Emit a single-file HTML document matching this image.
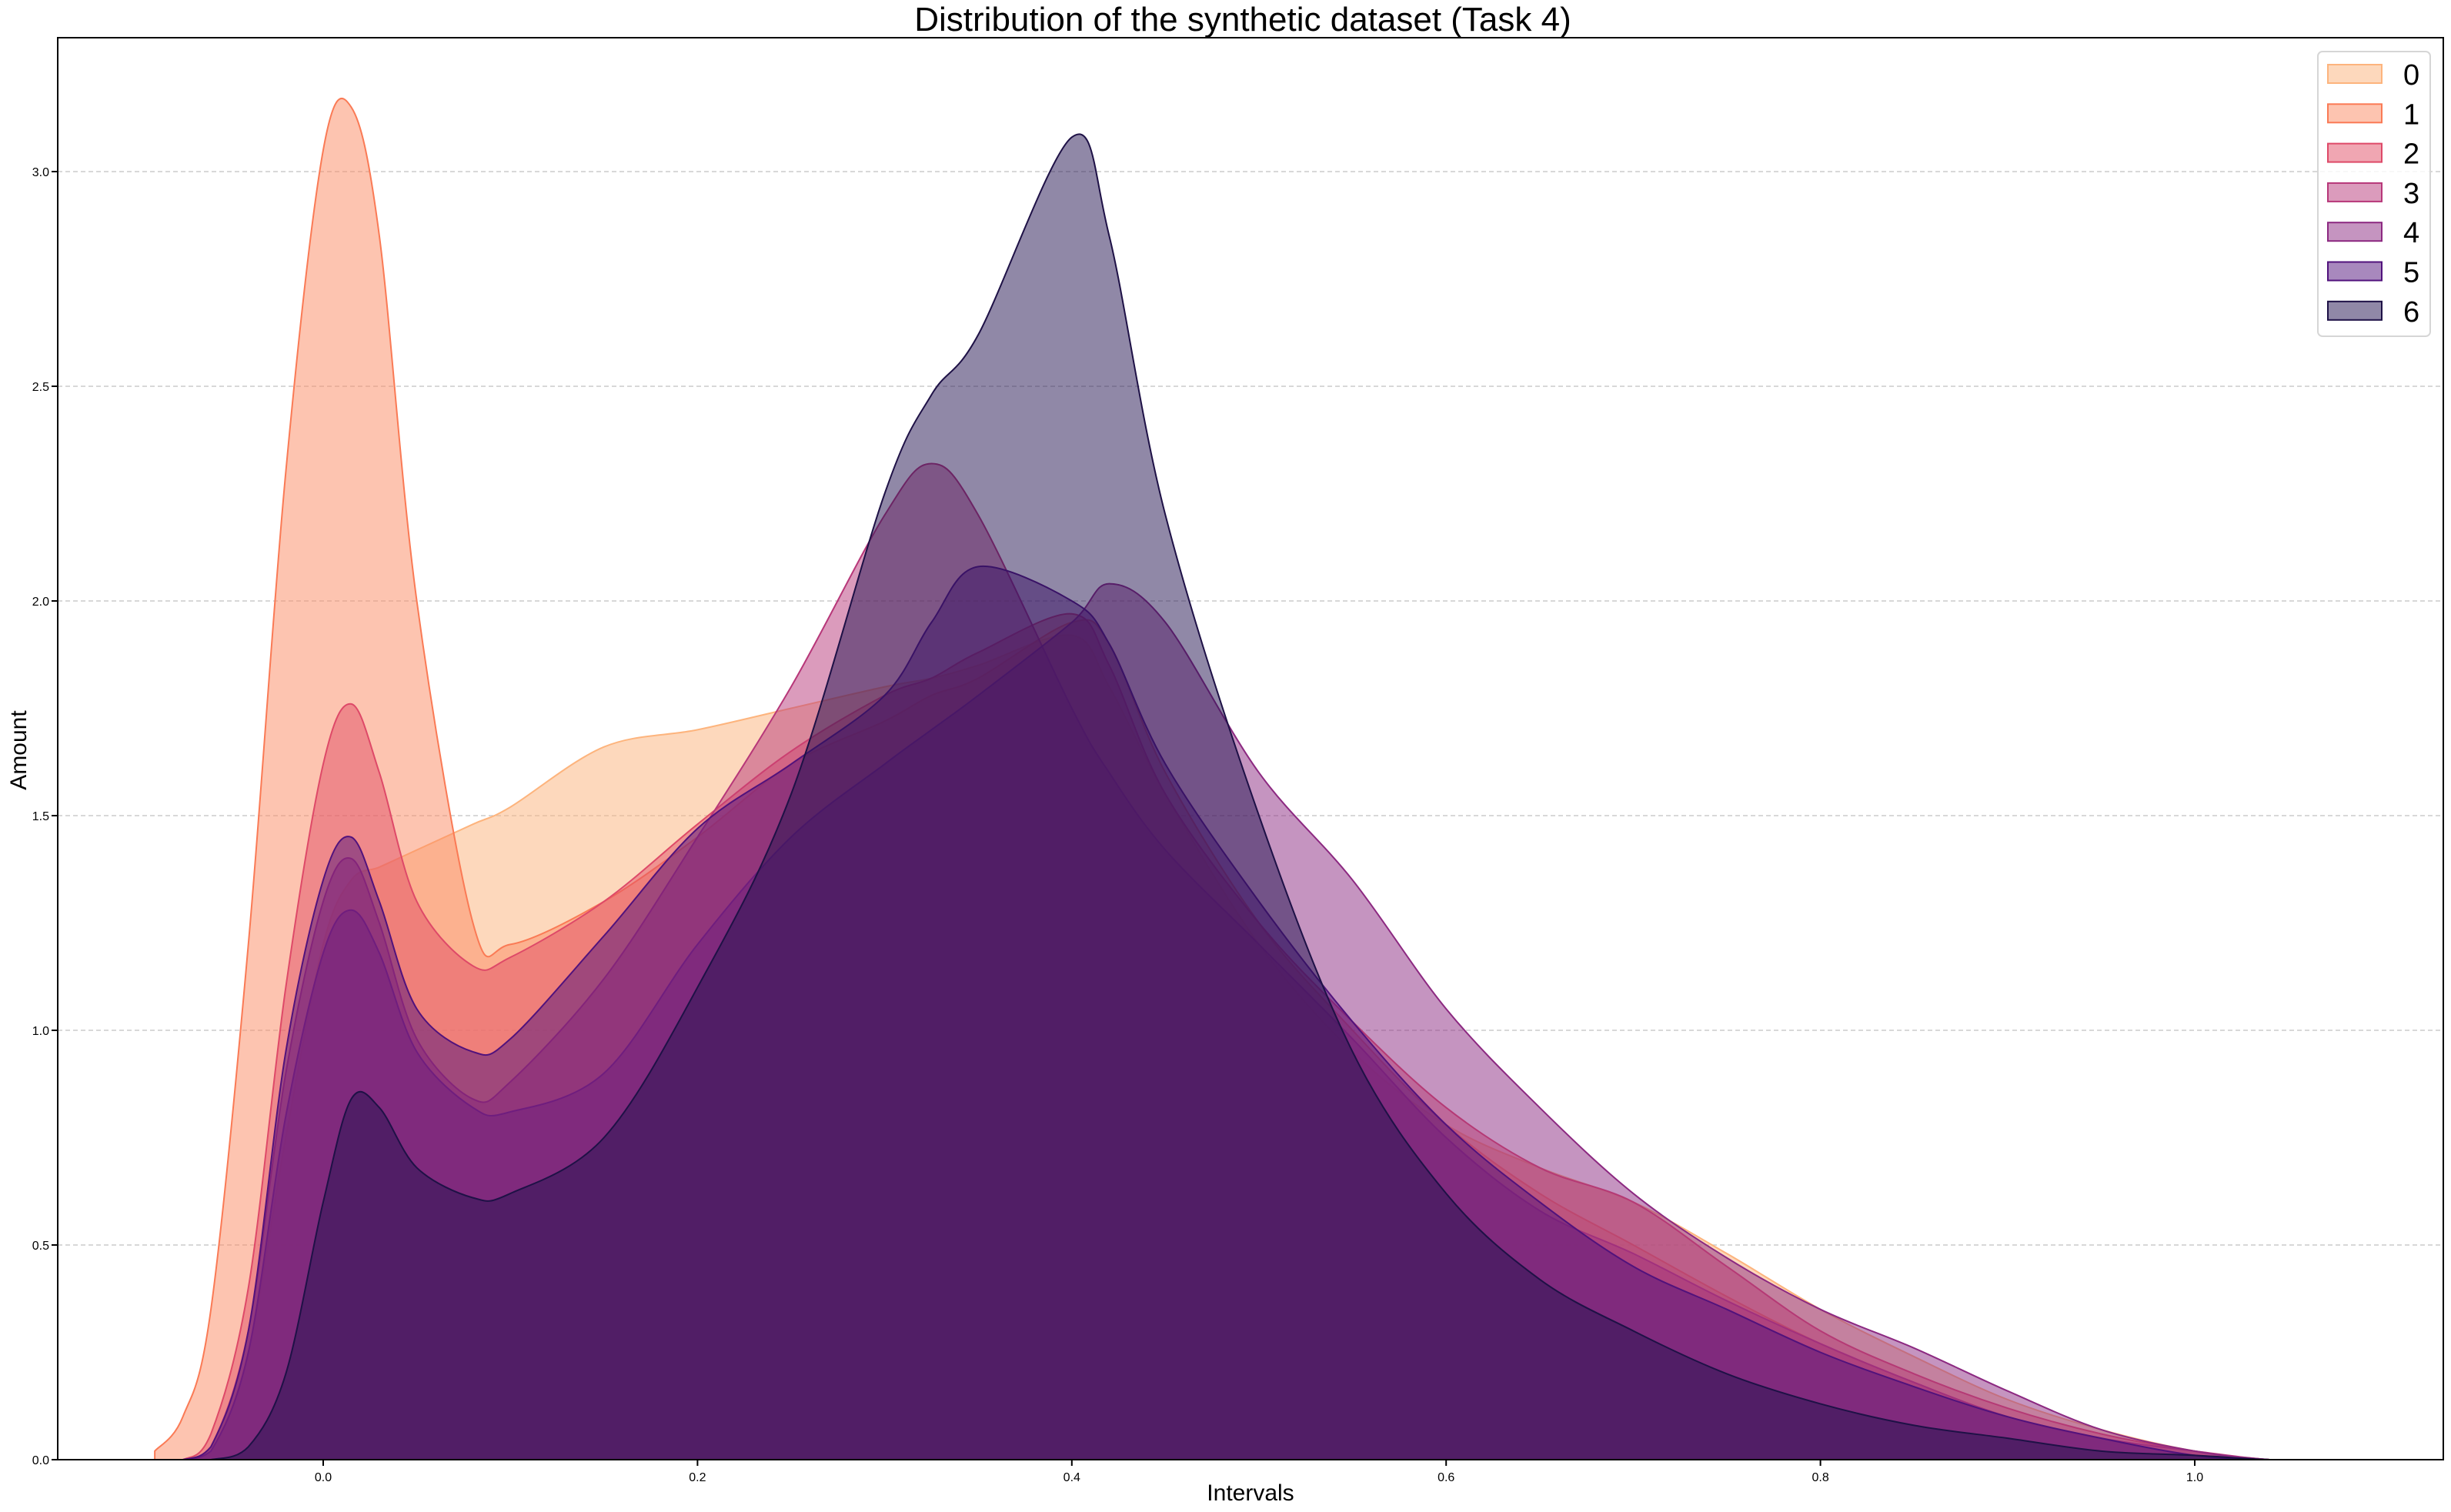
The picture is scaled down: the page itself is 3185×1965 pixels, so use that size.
<!DOCTYPE html>
<html><head><meta charset="utf-8">
<style>
html,body{margin:0;padding:0;background:#fff;}
svg{display:block;font-family:"Liberation Sans","DejaVu Sans",sans-serif;}
</style></head>
<body>
<svg id="chart" width="3185" height="1965" viewBox="0 0 3185 1965" xmlns="http://www.w3.org/2000/svg">
<text x="1615" y="40" font-size="44" text-anchor="middle">Distribution of the synthetic dataset (Task 4)</text>
<text x="1625" y="1950" font-size="30" text-anchor="middle">Intervals</text>
<text x="34" y="975" font-size="30" text-anchor="middle" transform="rotate(-90 34 975)">Amount</text>
<g id="grid"></g>
<g id="series"></g>
<rect x="75" y="49" width="3100" height="1848" fill="none" stroke="#000" stroke-width="2"/>
<g id="ticks"></g>
<g id="legend"></g>
</svg>
<script>
const xs = [-0.09,-0.075,-0.06,-0.04,-0.02,0,0.015,0.03,0.05,0.08,0.1,0.15,0.2,0.25,0.3,0.325,0.35,0.4,0.42,0.45,0.5,0.55,0.6,0.65,0.7,0.75,0.8,0.85,0.9,0.95,1.0,1.04,1.07];
const seriesNames = ["0","1","2","3","4","5","6"];
const s0 = [0,0,0.02,0.25,0.75,1.2,1.35,1.38,1.42,1.48,1.52,1.66,1.7,1.75,1.8,1.82,1.85,1.92,1.8,1.55,1.2,0.95,0.78,0.68,0.6,0.48,0.35,0.24,0.14,0.07,0.02,0,0];
const s1 = [0.02,0.1,0.35,1.2,2.3,3.05,3.15,2.85,2.0,1.25,1.2,1.3,1.45,1.62,1.72,1.78,1.82,1.95,1.9,1.6,1.25,1.0,0.78,0.62,0.5,0.38,0.27,0.18,0.1,0.05,0.01,0,0];
const s2 = [0,0,0.06,0.4,1.1,1.62,1.76,1.6,1.3,1.15,1.17,1.3,1.48,1.65,1.78,1.82,1.88,1.97,1.85,1.55,1.25,1.02,0.82,0.68,0.6,0.45,0.3,0.2,0.12,0.06,0.02,0,0];
const s3 = [0,0,0.03,0.3,0.9,1.3,1.4,1.25,0.98,0.84,0.88,1.12,1.45,1.8,2.2,2.32,2.2,1.75,1.6,1.42,1.2,0.98,0.75,0.58,0.48,0.37,0.27,0.18,0.1,0.05,0.02,0,0];
const s4 = [0,0,0.02,0.25,0.8,1.18,1.28,1.18,0.95,0.82,0.81,0.9,1.2,1.45,1.62,1.7,1.78,1.95,2.04,1.95,1.6,1.35,1.05,0.82,0.62,0.47,0.35,0.26,0.16,0.07,0.02,0,0];
const s5 = [0,0,0.03,0.3,0.95,1.35,1.45,1.3,1.05,0.95,0.98,1.22,1.47,1.62,1.78,1.95,2.08,2.0,1.9,1.62,1.3,1.02,0.78,0.6,0.45,0.35,0.25,0.17,0.1,0.05,0.01,0,0];
const s6 = [0,0,0,0.03,0.2,0.6,0.84,0.82,0.68,0.61,0.62,0.75,1.1,1.55,2.25,2.48,2.62,3.08,2.85,2.2,1.5,0.95,0.62,0.42,0.3,0.2,0.13,0.08,0.05,0.02,0.01,0,0];
const allSeries = [s0,s1,s2,s3,s4,s5,s6];
const xTicks = [0,0.2,0.4,0.6,0.8,1.0];
const xTickLabels = ["0.0","0.2","0.4","0.6","0.8","1.0"];
const yTicks = [0,0.5,1.0,1.5,2.0,2.5,3.0];
const yTickLabels = ["0.0","0.5","1.0","1.5","2.0","2.5","3.0"];
const fills = ["#fcb17a","#fc8961","#e14d66","#b73779","#8c2981","#51127c","#221150"];
const edges = ["#fdb47d","#fa7a55","#de4968","#b73779","#8c2981","#51127c","#1e1146"];

const NS="http://www.w3.org/2000/svg";
const X0=420, XU=2432, Y0=1897, YU=558;
const sx = v => X0 + v*XU;
const sy = v => Y0 - v*YU;
function mk(tag, attrs, parent){const e=document.createElementNS(NS,tag);for(const k in attrs)e.setAttribute(k,attrs[k]);parent.appendChild(e);return e;}

const grid=document.getElementById('grid');
yTicks.forEach((t,i)=>{ if(i===0)return;
  const l=mk('line',{x1:75,x2:3175,y1:sy(t),y2:sy(t),stroke:'#cccccc','stroke-width':1.5,'stroke-dasharray':'6,4'},grid);
  
  
});

function pathFor(vals){
  const pts=xs.map((x,i)=>[sx(x),sy(vals[i])]);
  let d=`M${pts[0][0]},${Y0} L${pts[0][0]},${pts[0][1]}`;
  for(let i=0;i<pts.length-1;i++){
    const p0=pts[Math.max(0,i-1)],p1=pts[i],p2=pts[i+1],p3=pts[Math.min(pts.length-1,i+2)];
    let c1y=p1[1]+(p2[1]-p0[1])/6, c2y=p2[1]-(p3[1]-p1[1])/6;
    c1y=Math.min(c1y,Y0); c2y=Math.min(c2y,Y0);
    d+=` C${p1[0]+(p2[0]-p0[0])/6},${c1y} ${p2[0]-(p3[0]-p1[0])/6},${c2y} ${p2[0]},${p2[1]}`;
  }
  d+=` L${pts[pts.length-1][0]},${Y0} Z`;
  return d;
}
const sg=document.getElementById('series');
allSeries.forEach((vals,i)=>{
  const p=mk('path',{d:pathFor(vals),fill:fills[i],'fill-opacity':0.5,stroke:edges[i],'stroke-width':2},sg);
  
  
});

const tg=document.getElementById('ticks');
xTicks.forEach((t,i)=>{
  const l=mk('line',{x1:sx(t),x2:sx(t),y1:Y0,y2:Y0+8,stroke:'#000','stroke-width':2},tg);
  
  
  const tx=mk('text',{x:sx(t),y:Y0+28,'font-size':16,'text-anchor':'middle'},tg);
  tx.textContent=xTickLabels[i];
  
  
});
yTicks.forEach((t,i)=>{
  const l=mk('line',{x1:67,x2:75,y1:sy(t),y2:sy(t),stroke:'#000','stroke-width':2},tg);
  
  
  const tx=mk('text',{x:64,y:sy(t)+6,'font-size':16,'text-anchor':'end'},tg);
  tx.textContent=yTickLabels[i];
  
  
});

const lg=document.getElementById('legend');
const box=mk('rect',{x:3012,y:67,width:146,height:370,rx:6,fill:'#fff','fill-opacity':0.8,stroke:'#d6d6d6','stroke-width':2},lg);


seriesNames.forEach((n,i)=>{
  const cy=96+i*51.3;
  const r=mk('rect',{x:3025,y:cy-12,width:70,height:24,fill:fills[i],'fill-opacity':0.5,stroke:edges[i],'stroke-width':2},lg);
  
  
  const t=mk('text',{x:3123,y:cy+14,'font-size':38},lg);
  t.textContent=n;
  
  
});
</script>
</body></html>
